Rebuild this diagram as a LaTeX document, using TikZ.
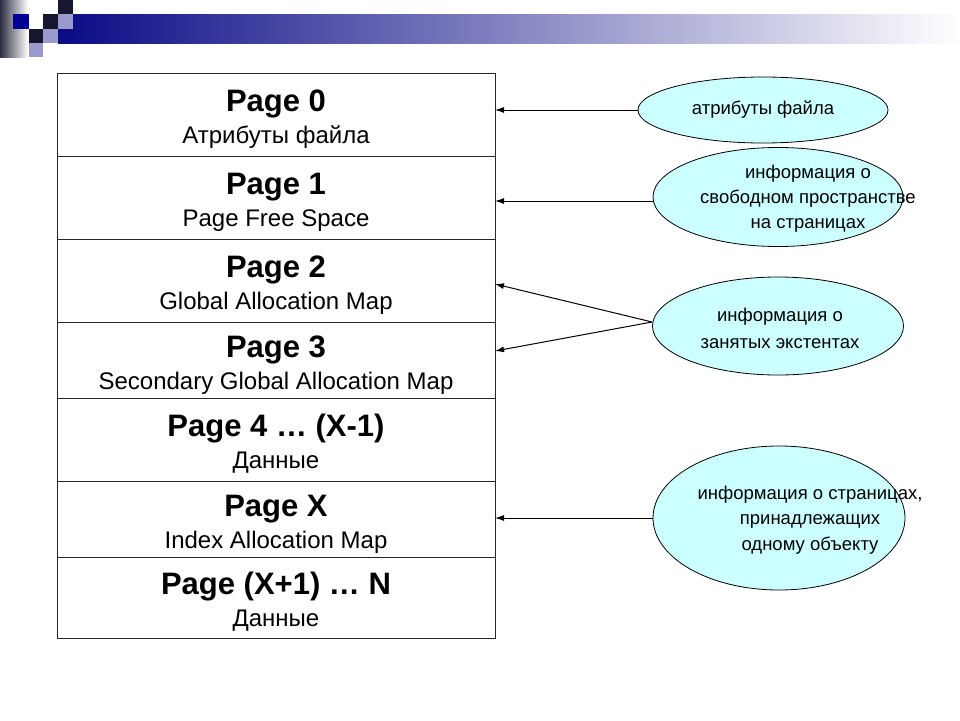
\documentclass[tikz,border=0pt]{standalone}
\usepackage{fontspec}
\setmainfont{Liberation Sans}
\usetikzlibrary{positioning,shapes.geometric,arrows.meta}

\definecolor{barnavy}{HTML}{0A0A85}
\definecolor{sqdark}{HTML}{16162E}
\definecolor{sqnavy}{HTML}{000095}
\definecolor{sqlav}{HTML}{9A9ACC}
\definecolor{ellfill}{HTML}{CCFFFF}

\newcommand{\ptitle}[1]{{\fontsize{31}{32}\selectfont\bfseries\rule{0pt}{31pt}#1}}

\tikzset{
  pagerow/.style={draw=black!85, line width=1pt, minimum width=438pt, align=center,
    inner sep=0pt, outer sep=0pt, font=\fontsize{24}{32}\selectfont},
  infoell/.style={ellipse, draw, fill=ellfill, line width=0.8pt, inner sep=0pt},
  infotext/.style={align=center, font=\fontsize{18.5}{25}\selectfont},
  ptr/.style={-{Latex[length=9pt,width=6pt]}, line width=1pt},
}

\begin{document}
\begin{tikzpicture}[x=1pt,y=-1pt]
\useasboundingbox (0,0) rectangle (960,720);

% title bar
\shade[left color=barnavy, right color=white] (58,14) rectangle (960,43);
\shade[left color=sqdark!90, right color=white] (0,0) rectangle (28,57);
\fill[sqdark] (58,0) rectangle (73,14);
\fill[sqnavy] (13,14) rectangle (29,29);
\fill[sqdark] (43,14) rectangle (58,29);
\fill[sqlav] (58,14) rectangle (73,29);
\fill[sqdark] (29,29) rectangle (43,43);
\fill[sqlav] (43,29) rectangle (58,43);
\fill[sqlav] (29,43) rectangle (43,57);

% pages of the file
\node[pagerow, minimum height=83pt, anchor=north] (p0) at (276,73) {\ptitle{Page 0}\\Атрибуты файла};
\node[pagerow, minimum height=83pt, below=0pt of p0] (p1) {\ptitle{Page 1}\\Page Free Space};
\node[pagerow, minimum height=83pt, below=0pt of p1] (p2) {\ptitle{Page 2}\\Global Allocation Map};
\node[pagerow, minimum height=76pt, below=0pt of p2] (p3) {\ptitle{Page 3}\\Secondary Global Allocation Map};
\node[pagerow, minimum height=83pt, below=0pt of p3] (p4) {\ptitle{Page 4 … (X-1)}\\Данные};
\node[pagerow, minimum height=76pt, below=0pt of p4] (p5) {\ptitle{Page X}\\Index Allocation Map};
\node[pagerow, minimum height=81pt, below=0pt of p5] (p6) {\ptitle{Page (X+1) … N}\\Данные};

% notes
\node[infoell, minimum width=250pt, minimum height=66pt] (e0) at (763,110) {};
\node[infotext] (t0) at (763,110) {атрибуты файла};
\node[infoell, minimum width=250pt, minimum height=99pt] (e1) at (778,197) {};
\node[infotext] (t1) at (808,199) {информация о\\свободном пространстве\\на страницах};
\node[infoell, minimum width=251pt, minimum height=98pt] (e2) at (778,326) {};
\node[infotext, font=\fontsize{18.5}{27}\selectfont] (t2) at (780,328) {информация о\\занятых экстентах};
\node[infoell, minimum width=252pt, minimum height=144pt] (e3) at (779,518) {};
\node[infotext, font=\fontsize{18.5}{25.5}\selectfont] (t3) at (810,520) {информация о страницах,\\принадлежащих\\одному объекту};

\draw[ptr] (e0.west) -- (e0.west -| p0.east);
\draw[ptr] ([yshift=-4pt]e1.west) -- ([yshift=-4pt]e1.west -| p1.east);
\draw[ptr] ([yshift=4pt]e2.west) -- ([yshift=-3.5pt]p2.east);
\draw[ptr] ([yshift=4pt]e2.west) -- ([yshift=9pt]p3.east);
\draw[ptr] (e3.west) -- (e3.west -| p5.east);
\end{tikzpicture}
\end{document}
